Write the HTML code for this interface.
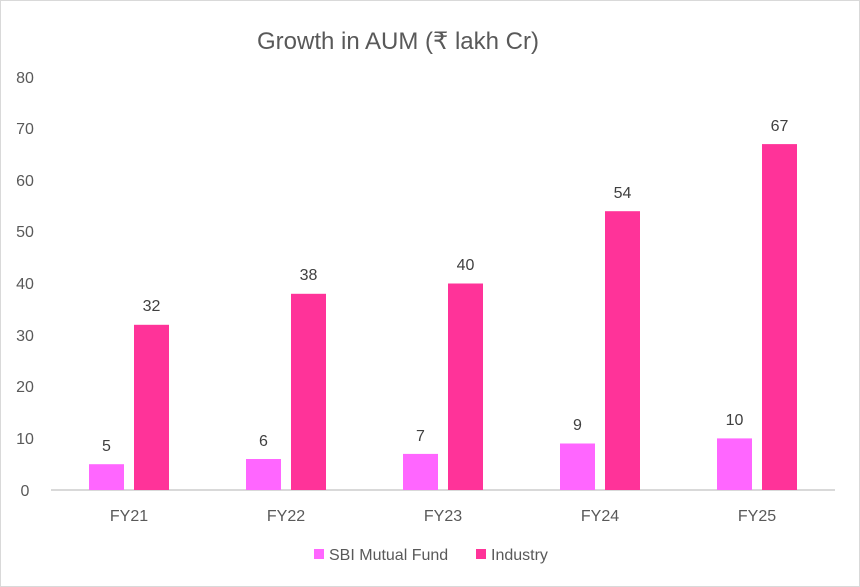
<!DOCTYPE html>
<html><head><style>body{margin:0;background:#fff}svg{display:block}</style></head><body>
<svg width="860" height="587" xmlns="http://www.w3.org/2000/svg" font-family="Liberation Sans, DejaVu Sans, sans-serif">
<rect x="0.5" y="0.5" width="859" height="586" fill="#fff" stroke="#d9d9d9"/>
<text x="398" y="49" font-size="24" fill="#595959" text-anchor="middle">Growth in AUM (₹ lakh Cr)</text>
<g font-size="16" fill="#595959" text-anchor="middle">
<text x="25" y="496">0</text><text x="25" y="444">10</text><text x="25" y="392">20</text><text x="25" y="341">30</text><text x="25" y="289">40</text><text x="25" y="237">50</text><text x="25" y="186">60</text><text x="25" y="134">70</text><text x="25" y="83">80</text>
</g>
<line x1="51" y1="490" x2="835" y2="490" stroke="#d9d9d9" stroke-width="2"/>
<g fill="#ff66ff">
<rect x="89" y="464.2" width="35" height="25.8"/>
<rect x="246" y="459" width="35" height="31"/>
<rect x="403" y="453.9" width="35" height="36.1"/>
<rect x="560" y="443.5" width="35" height="46.5"/>
<rect x="717" y="438.4" width="35" height="51.6"/>
</g>
<g fill="#ff3399">
<rect x="134" y="324.8" width="35" height="165.2"/>
<rect x="291" y="293.8" width="35" height="196.2"/>
<rect x="448" y="283.5" width="35" height="206.5"/>
<rect x="605" y="211.2" width="35" height="278.8"/>
<rect x="762" y="144.1" width="35" height="345.9"/>
</g>
<g font-size="16" fill="#404040" text-anchor="middle">
<text x="106.5" y="451">5</text><text x="263.5" y="446">6</text><text x="420.5" y="441">7</text><text x="577.5" y="430">9</text><text x="734.5" y="425">10</text>
<text x="151.5" y="311">32</text><text x="308.5" y="280">38</text><text x="465.5" y="270">40</text><text x="622.5" y="198">54</text><text x="779.5" y="131">67</text>
</g>
<g font-size="16" fill="#595959" text-anchor="middle">
<text x="129" y="521">FY21</text><text x="286" y="521">FY22</text><text x="443" y="521">FY23</text><text x="600" y="521">FY24</text><text x="757" y="521">FY25</text>
</g>
<rect x="314" y="549" width="10" height="10" fill="#ff66ff"/>
<text x="329" y="560" font-size="16" fill="#595959">SBI Mutual Fund</text>
<rect x="476" y="549" width="10" height="10" fill="#ff3399"/>
<text x="491" y="560" font-size="16" fill="#595959">Industry</text>
</svg>
</body></html>
